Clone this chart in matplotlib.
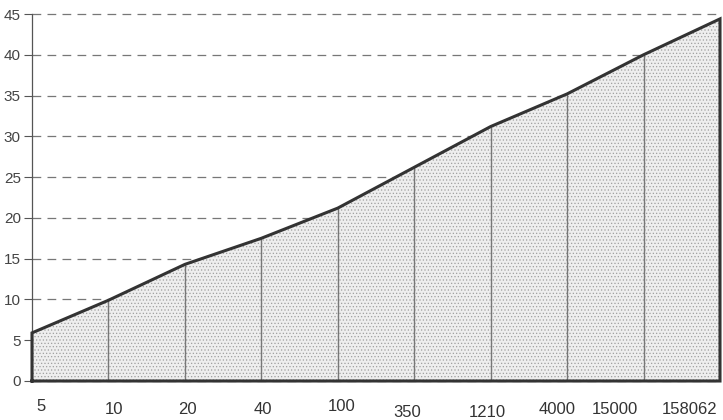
import matplotlib
matplotlib.use('Agg')
import matplotlib.pyplot as plt
import numpy as np

# values
categories = ['5', '10', '20', '40', '100', '350', '1210', '4000', '15000', '158062']
values = [5.9, 9.9, 14.3, 17.5, 21.2, 26.2, 31.2, 35.2, 40.0, 44.4]
y_ticks = [0, 5, 10, 15, 20, 25, 30, 35, 40, 45]

# label nudges (in category units / points) to mimic the hand-set labels
label_dx = [0.12, 0.07, 0.03, 0.02, 0.05, -0.09, -0.05, -0.13, -0.37, -0.40]
label_dy = [-13, -15, -15, -15, -13, -17, -17, -15, -15, -15]

plt.rcParams['font.family'] = ['Liberation Sans Narrow', 'Liberation Sans', 'DejaVu Sans']
plt.rcParams['hatch.linewidth'] = 0.5

fig = plt.figure(figsize=(7.23, 4.2), dpi=100)
ax = fig.add_axes([32 / 723, 39 / 420, 688 / 723, 367 / 420])

x = np.arange(len(categories))

# dashed horizontal grid behind the area
for yt in y_ticks:
    ax.axhline(yt, color='#777777', lw=0.9, ls=(0, (7, 5)), zorder=0, clip_on=False)

# stippled area
ax.fill_between(x, 0, values, facecolor='#eeeeee', edgecolor='#a0a0a0',
                hatch='.....', lw=0, zorder=1)

# vertical separators
ax.vlines(x[1:-1], 0, values[1:-1], color='#777777', lw=1.0, zorder=2)

# outline of the area
ax.plot(np.r_[x[0], x, x[-1], x[0]], np.r_[0, values, 0, 0],
        color='#333333', lw=2.2, zorder=3, clip_on=False, solid_joinstyle='miter')

ax.set_xlim(0, len(categories) - 1)
ax.set_ylim(0, 45)

for s in ['top', 'right', 'bottom']:
    ax.spines[s].set_visible(False)
ax.spines['left'].set_color('#555555')
ax.spines['left'].set_linewidth(0.9)

ax.set_yticks(y_ticks)
ax.tick_params(axis='y', length=6, width=0.8, color='#555555', labelsize=11,
               labelcolor='#444444', pad=2)
ax.set_xticks(x)
ax.set_xticklabels([])
ax.tick_params(axis='x', length=0)

for xi, lab, dx, dy in zip(x, categories, label_dx, label_dy):
    ax.annotate(lab, (xi + dx, 0), xytext=(0, dy), textcoords='offset points',
                ha='center', va='top', fontsize=12, color='#333333',
                annotation_clip=False)

plt.savefig('out.png', dpi=100)
plt.close()
